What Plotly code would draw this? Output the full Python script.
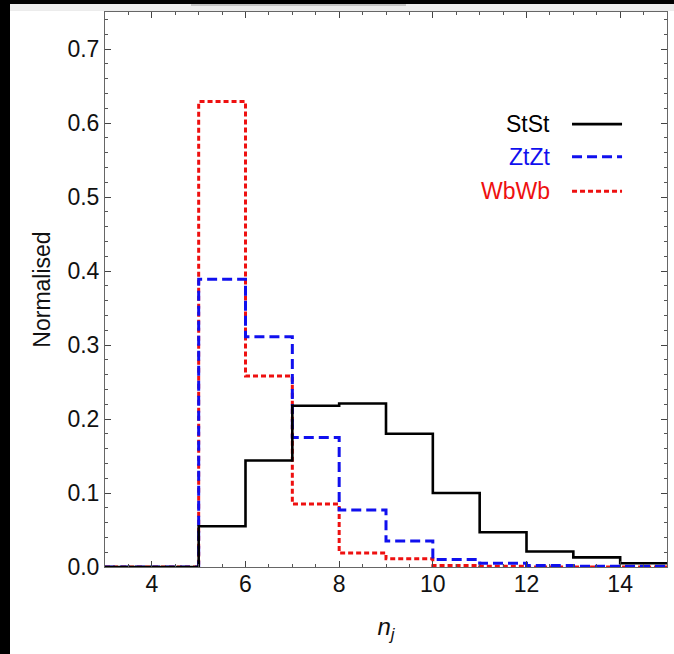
import plotly.graph_objects as go

# Bin edges for n_j histogram (bins of width 1 from 3 to 15)
bin_edges = [3, 4, 5, 6, 7, 8, 9, 10, 11, 12, 13, 14, 15]

# Normalised fractions per bin
ststs = [0.0, 0.0, 0.055, 0.144, 0.218, 0.221, 0.180, 0.100, 0.047, 0.021, 0.013, 0.005]
ztzt = [0.0, 0.0, 0.389, 0.311, 0.175, 0.077, 0.035, 0.010, 0.005, 0.002, 0.001, 0.001]
wbwb = [0.0, 0.0, 0.629, 0.258, 0.085, 0.019, 0.011, 0.002, 0.001, 0.0, 0.0, 0.0]

series_names = ["StSt", "ZtZt", "WbWb"]
series_values = [ststs, ztzt, wbwb]
series_colors = ["#000000", "#1010ee", "#ee1010"]
series_dash = ["solid", "10px,5px", "5px,3px"]

x_ticks = [4, 6, 8, 10, 12, 14]
y_ticks = [0.0, 0.1, 0.2, 0.3, 0.4, 0.5, 0.6, 0.7]

FONT = "Liberation Sans, Arial, Helvetica, sans-serif"
FS = 23

fig = go.Figure()
# draw in reverse so red is on top like the reference
for name, vals, col, dash in reversed(list(zip(series_names, series_values, series_colors, series_dash))):
    fig.add_trace(go.Scatter(
        x=bin_edges, y=vals + [vals[-1]], mode="lines", line_shape="hv",
        line=dict(color=col, width=3 if name != "StSt" else 2.6, dash=dash),
        name=name, showlegend=False, hoverinfo="skip",
    ))

# Manual legend: text right-aligned, line sample to the right
leg_y = [0.798, 0.739, 0.677]
for name, col, dash, yy in zip(series_names, series_colors, series_dash, leg_y):
    fig.add_annotation(x=0.7954, y=yy, xref="paper", yref="paper", text=name,
                       showarrow=False, xanchor="right", yanchor="middle",
                       font=dict(family=FONT, size=FS, color=col))
    fig.add_shape(type="line", xref="paper", yref="paper", x0=0.831, x1=0.920,
                  y0=yy, y1=yy, line=dict(color=col, width=3 if name != "StSt" else 2.6, dash=dash))

axis_common = dict(
    showline=True, linecolor="#666666", linewidth=1, mirror="allticks",
    ticks="inside", ticklen=6, tickcolor="#444444", tickwidth=1,
    showgrid=False, zeroline=False,
    tickfont=dict(family=FONT, size=FS, color="#111111"),
)

fig.update_xaxes(
    range=[3, 15], tickvals=x_ticks, ticktext=[str(v) for v in x_ticks],
    minor=dict(dtick=0.5, tick0=3, ticks="inside", ticklen=3, tickcolor="#555555"),
    ticklabelstandoff=-4,
    title=dict(text="<i>n<sub>j</sub></i>", font=dict(family=FONT, size=24, color="#111111"), standoff=22),
    **axis_common,
)
fig.update_yaxes(
    range=[0, 0.75], tickvals=y_ticks, ticktext=[f"{v:.1f}" for v in y_ticks],
    minor=dict(dtick=0.02, tick0=0, ticks="inside", ticklen=3, tickcolor="#555555"),
    title=dict(text="Normalised", font=dict(family=FONT, size=FS, color="#111111"), standoff=10),
    **axis_common,
)

fig.update_layout(
    width=674, height=654,
    margin=dict(l=105, r=7, t=12, b=87),
    paper_bgcolor="white", plot_bgcolor="white",
    showlegend=False,
)

# Page tweaks: no body margin, plus the screenshot's window edges (black left strip, top band)
post = """
document.body.style.margin='0';
document.body.style.overflow='hidden';
function band(l,t,w,h,c){var d=document.createElement('div');
 d.style.cssText='position:fixed;pointer-events:none;z-index:9999;left:'+l+'px;top:'+t+'px;width:'+w+'px;height:'+h+'px;background:'+c;
 document.body.appendChild(d);}
band(0,0,10,654,'#000');
band(0,0,674,4,'#000');
band(10,4,664,7,'#ececec');
band(191,4,215,2,'#c4c4c4');
"""

fig.write_html("out.html", post_script=post, config={"displayModeBar": False})
